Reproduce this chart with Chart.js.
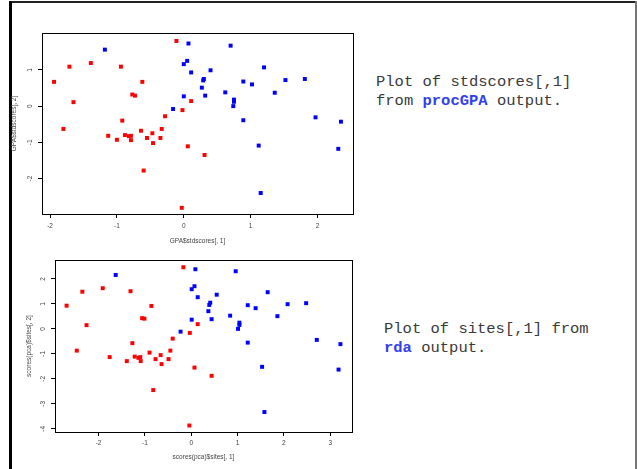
<!DOCTYPE html>
<html>
<head>
<meta charset="utf-8">
<script src="https://cdn.jsdelivr.net/npm/chart.js@4/dist/chart.umd.min.js"></script>
<style>
  html, body { margin: 0; padding: 0; background: #fff; }
  body { width: 637px; height: 469px; position: relative; overflow: hidden; }
  canvas { position: absolute; left: 0; }
  #c1 { top: 0; }
  #c2 { top: 250px; }
  .bd { position: absolute; }
  .note { position: absolute; font-family: "Liberation Mono", "Courier New", monospace; font-size: 15.5px; line-height: 19px; color: #3a3a3a; white-space: pre; }
  .note b { color: #3340ee; }
</style>
</head>
<body>
<div class="bd" style="left:9px;top:1px;width:628px;height:2px;background:#222"></div>
<div class="bd" style="left:9px;top:1px;width:3px;height:468px;background:#000"></div>
<div class="bd" style="left:635px;top:1px;width:2px;height:468px;background:#777"></div>

<canvas id="c1" width="360" height="250"></canvas>
<canvas id="c2" width="360" height="219"></canvas>

<div class="note" style="left:376px;top:73px">Plot of stdscores[,1]<br>from <b>procGPA</b> output.</div>
<div class="note" style="left:384px;top:320px">Plot of sites[,1] from<br><b>rda</b> output.</div>

<script>
// ---- Plot 1: procGPA standardized scores ----
const gpaRedX  = [-0.11, -1.71, -1.39, -0.94, -1.94, -0.62, -1.65, -0.77, -0.73, 0.11, -0.02, -0.28, -0.92, -1.80, -0.33, -0.64, -0.47, -1.13, -0.88, -0.82, -0.79, -1.00, -0.55, -0.79, -0.35, -0.46, 0.06, 0.31, -0.60, -0.03];
const gpaRedY  = [1.80, 1.09, 1.19, 1.09, 0.67, 0.67, 0.11, 0.32, 0.29, 0.14, -0.11, -0.28, -0.40, -0.63, -0.63, -0.68, -0.75, -0.82, -0.80, -0.83, -0.82, -0.93, -0.88, -0.94, -0.88, -1.02, -1.11, -1.35, -1.78, -2.81];
const gpaBlueX = [-1.18, 0.07, 0.70, 0.05, 0.00, 0.11, 0.40, 1.20, 0.30, 0.29, 0.89, 1.02, 1.52, 1.81, 0.27, 0.62, 1.36, 0.00, 0.32, 0.75, 0.75, 0.74, -0.16, 0.89, 1.97, 2.35, 1.12, 2.31, 1.15];
const gpaBlueY = [1.56, 1.73, 1.67, 1.25, 1.16, 0.93, 0.99, 1.07, 0.75, 0.71, 0.68, 0.60, 0.72, 0.75, 0.51, 0.38, 0.37, 0.27, 0.29, 0.18, 0.12, 0.00, -0.08, -0.39, -0.31, -0.43, -1.09, -1.18, -2.40];
const gpaXTicks = [-2, -1, 0, 1, 2];
const gpaYTicks = [-2, -1, 0, 1];
const gpaXTitle = 'GPA$stdscores[, 1]';
const gpaYTitle = 'GPA$stdscores[, 2]';

// ---- Plot 2: rda site scores ----
const rdaRedX  = [-0.17, -2.69, -2.35, -1.91, -1.31, -0.86, -1.06, -1.01, -2.26, 0.14, -0.03, -0.40, -1.27, -2.47, -0.90, -0.45, -0.66, -1.76, -1.22, -1.14, -1.10, -1.39, -0.77, -1.09, -0.49, -0.64, 0.07, 0.44, -0.82, -0.04];
const rdaRedY  = [2.47, 0.93, 1.49, 1.63, 1.51, 0.92, 0.43, 0.41, 0.15, 0.19, -0.16, -0.39, -0.57, -0.87, -0.95, -0.87, -1.05, -1.13, -1.11, -1.16, -1.13, -1.29, -1.21, -1.29, -1.21, -1.41, -1.55, -1.88, -2.45, -3.87];
const rdaBlueX = [-1.63, 0.09, 0.96, 0.07, 0.01, 0.55, 1.65, 0.14, 0.41, 0.39, 1.22, 1.39, 2.08, 2.48, 0.37, 0.84, 1.86, 0.01, 0.44, 1.04, 1.04, 1.01, -0.23, 1.22, 2.71, 3.22, 1.53, 3.18, 1.58];
const rdaBlueY = [2.16, 2.39, 2.31, 1.71, 1.59, 1.37, 1.47, 1.27, 1.05, 0.96, 0.95, 0.83, 0.99, 1.03, 0.71, 0.53, 0.51, 0.37, 0.39, 0.25, 0.16, 0.00, -0.11, -0.55, -0.44, -0.61, -1.52, -1.63, -3.33];
const rdaXTicks = [-2, -1, 0, 1, 2, 3];
const rdaYTicks = [-4, -3, -2, -1, 0, 1, 2];
const rdaXTitle = 'scores(pca)$sites[, 1]';
const rdaYTitle = 'scores(pca)$sites[, 2]';

const zip = (xs, ys) => xs.map((x, i) => ({ x, y: ys[i] }));
const FONT = '"Liberation Sans", Arial, sans-serif';
const TXT = '#444';

const rFrame = {
  id: 'rFrame',
  afterDraw(chart) {
    const ctx = chart.ctx, a = chart.chartArea, ys = chart.scales.y;
    ctx.save();
    ctx.lineWidth = 1;
    ctx.strokeStyle = '#000';
    const l = Math.round(a.left) + 0.5, t = Math.round(a.top) + 0.5;
    const r = Math.round(a.right) + 0.5, b = Math.round(a.bottom) + 0.5;
    ctx.strokeRect(l, t, r - l, b - t);
    ctx.font = '6.5px ' + FONT;
    ctx.fillStyle = TXT;
    ctx.textAlign = 'center';
    ctx.textBaseline = 'middle';
    ys.ticks.forEach(tk => {
      const py = ys.getPixelForValue(tk.value);
      ctx.save();
      ctx.translate(a.left - 11.5, py);
      ctx.rotate(-Math.PI / 2);
      ctx.fillText(String(tk.value), 0, 0);
      ctx.restore();
    });
    ctx.restore();
  }
};

function makeChart(id, cfg) {
  const setTicks = arr => scale => { scale.ticks = arr.map(v => ({ value: v, label: String(v) })); };
  return new Chart(document.getElementById(id), {
    type: 'scatter',
    data: {
      datasets: [
        { data: zip(cfg.rx, cfg.ry), backgroundColor: '#ff0000', pointStyle: 'rect', pointRadius: 2.8, borderWidth: 0 },
        { data: zip(cfg.bx, cfg.by), backgroundColor: '#0000ff', pointStyle: 'rect', pointRadius: 2.8, borderWidth: 0 }
      ]
    },
    options: {
      responsive: false,
      animation: false,
      events: [],
      layout: { padding: { left: 0, top: cfg.padTop, right: cfg.padRight, bottom: 0 } },
      plugins: { legend: { display: false }, tooltip: { enabled: false } },
      scales: {
        x: {
          type: 'linear', min: cfg.xmin, max: cfg.xmax,
          afterBuildTicks: setTicks(cfg.xticks),
          afterFit: s => { s.height = cfg.xAxisH; },
          border: { display: false },
          grid: { drawOnChartArea: false, drawTicks: true, tickLength: 4, color: '#000', lineWidth: 1 },
          ticks: { font: { family: FONT, size: 6.5 }, color: TXT, padding: cfg.xTickPad, maxRotation: 0, autoSkip: false },
          title: { display: true, text: cfg.xtitle, font: { family: FONT, size: 6.5 }, color: TXT, padding: { top: 0, bottom: cfg.xTitlePad } }
        },
        y: {
          type: 'linear', min: cfg.ymin, max: cfg.ymax,
          afterBuildTicks: setTicks(cfg.yticks),
          afterFit: s => { s.width = cfg.yAxisW; },
          border: { display: false },
          grid: { drawOnChartArea: false, drawTicks: true, tickLength: 4, color: '#000', lineWidth: 1 },
          ticks: { font: { family: FONT, size: 6.5 }, color: 'rgba(0,0,0,0)', padding: 3, autoSkip: false },
          title: { display: true, text: cfg.ytitle, font: { family: FONT, size: 6.5 }, color: TXT, padding: { top: cfg.yTitlePad, bottom: 0 } }
        }
      }
    },
    plugins: [rFrame]
  });
}

makeChart('c1', {
  rx: gpaRedX, ry: gpaRedY, bx: gpaBlueX, by: gpaBlueY,
  xmin: -2.12, xmax: 2.53, ymin: -2.98, ymax: 2.02,
  xticks: gpaXTicks, yticks: gpaYTicks, xtitle: gpaXTitle, ytitle: gpaYTitle,
  padTop: 33, padRight: 7, xAxisH: 36, yAxisW: 42,
  xTickPad: 4, xTitlePad: 5, yTitlePad: 10.8
});

makeChart('c2', {
  rx: rdaRedX, ry: rdaRedY, bx: rdaBlueX, by: rdaBlueY,
  xmin: -2.94, xmax: 3.47, ymin: -4.13, ymax: 2.76,
  xticks: rdaXTicks, yticks: rdaYTicks, xtitle: rdaXTitle, ytitle: rdaYTitle,
  padTop: 10, padRight: 8, xAxisH: 37, yAxisW: 55,
  xTickPad: 3, xTitlePad: 7.8, yTitlePad: 25.8
});
</script>
</body>
</html>
